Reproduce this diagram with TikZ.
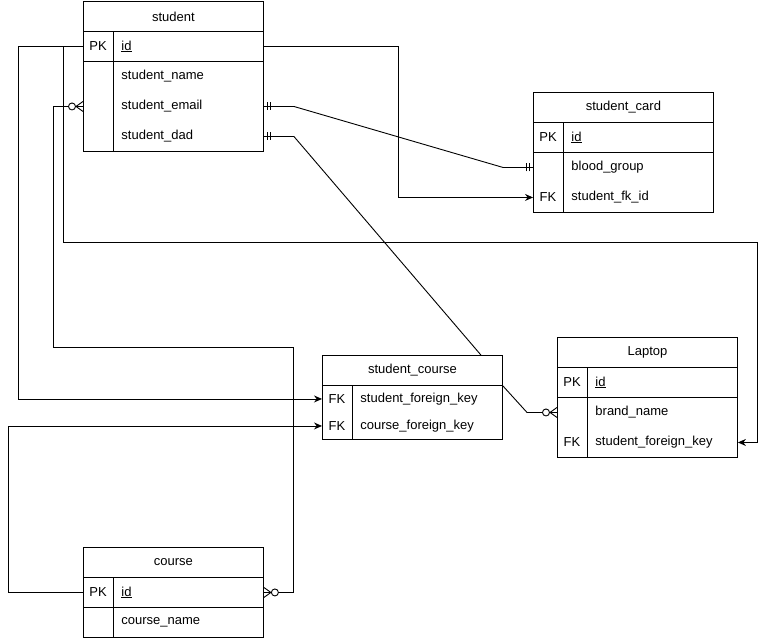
\documentclass[tikz,border=0pt]{standalone}
\usepackage{fontspec}
\setmainfont{Liberation Sans}
\usetikzlibrary{arrows.meta,positioning}
\tikzset{
  tblhead/.style={draw,anchor=north west,minimum width=180pt,minimum height=30pt,inner sep=0pt,font=\fontsize{13}{15}\selectfont},
  tblrow/.style={anchor=north west,minimum width=180pt,minimum height=30pt,inner sep=0pt},
  keytxt/.style={anchor=center,inner sep=0pt,font=\fontsize{13}{15}\selectfont},
  fieldtxt/.style={anchor=west,inner sep=0pt,font=\fontsize{13}{15}\selectfont},
  fkarrow/.style={-{Stealth[length=8pt,width=7pt]}},
  pics/mustone/.style={code={
    \draw (4,-4) -- (4,4) (7,-4) -- (7,4);
  }},
  pics/zeromany/.style={code={
    \draw (0,-5) -- (7,0) -- (0,5) (0,0) -- (7,0);
    \draw[fill=white] (11,0) circle (3.5pt);
  }},
}
\begin{document}
\begin{tikzpicture}[x=1pt,y=-1pt,line width=0.9pt]
\useasboundingbox (0,0) rectangle (767,638);
% Drawing tables
% Table: student
\node[tblhead] (student) at (83,1) {student};
\node[tblrow,draw] (student-id) at (83,31) {};
\node[tblrow,draw,minimum height=90pt] (student-body) at (83,61) {};
\node[tblrow] (student-name) at (83,61) {};
\node[tblrow] (student-email) at (83,91) {};
\node[tblrow] (student-dad) at (83,121) {};
\draw ([xshift=30pt]student-id.north west) -- ([xshift=30pt]student-body.south west);
\node[keytxt] (student-id-k) at ([xshift=15pt]student-id.west) {PK};
\node[fieldtxt] (student-id-f) at ([xshift=38pt]student-id.west) {\underline{id}};
\node[fieldtxt] (student-name-f) at ([xshift=38pt]student-name.west) {student\_name};
\node[fieldtxt] (student-email-f) at ([xshift=38pt]student-email.west) {student\_email};
\node[fieldtxt] (student-dad-f) at ([xshift=38pt]student-dad.west) {student\_dad};
% Table: student_card
\node[tblhead] (card) at (533,92) {student\_card};
\node[tblrow,draw] (card-id) at (533,122) {};
\node[tblrow,draw,minimum height=60pt] (card-body) at (533,152) {};
\node[tblrow] (card-blood) at (533,152) {};
\node[tblrow] (card-fk) at (533,182) {};
\draw ([xshift=30pt]card-id.north west) -- ([xshift=30pt]card-body.south west);
\node[keytxt] (card-id-k) at ([xshift=15pt]card-id.west) {PK};
\node[fieldtxt] (card-id-f) at ([xshift=38pt]card-id.west) {\underline{id}};
\node[fieldtxt] (card-blood-f) at ([xshift=38pt]card-blood.west) {blood\_group};
\node[keytxt] (card-fk-k) at ([xshift=15pt]card-fk.west) {FK};
\node[fieldtxt] (card-fk-f) at ([xshift=38pt]card-fk.west) {student\_fk\_id};
% Table: student_course
\node[tblhead] (sc) at (322,355) {student\_course};
\node[tblrow,draw,minimum height=54pt] (sc-body) at (322,385) {};
\node[tblrow,minimum height=27pt] (sc-sfk) at (322,385) {};
\node[tblrow,minimum height=27pt] (sc-cfk) at (322,412) {};
\draw ([xshift=30pt]sc-body.north west) -- ([xshift=30pt]sc-body.south west);
\node[keytxt] (sc-sfk-k) at ([xshift=15pt]sc-sfk.west) {FK};
\node[fieldtxt] (sc-sfk-f) at ([xshift=38pt]sc-sfk.west) {student\_foreign\_key};
\node[keytxt] (sc-cfk-k) at ([xshift=15pt]sc-cfk.west) {FK};
\node[fieldtxt] (sc-cfk-f) at ([xshift=38pt]sc-cfk.west) {course\_foreign\_key};
% Table: Laptop
\node[tblhead] (lap) at (557,337) {Laptop};
\node[tblrow,draw] (lap-id) at (557,367) {};
\node[tblrow,draw,minimum height=60pt] (lap-body) at (557,397) {};
\node[tblrow] (lap-brand) at (557,397) {};
\node[tblrow] (lap-fk) at (557,427) {};
\draw ([xshift=30pt]lap-id.north west) -- ([xshift=30pt]lap-body.south west);
\node[keytxt] (lap-id-k) at ([xshift=15pt]lap-id.west) {PK};
\node[fieldtxt] (lap-id-f) at ([xshift=38pt]lap-id.west) {\underline{id}};
\node[fieldtxt] (lap-brand-f) at ([xshift=38pt]lap-brand.west) {brand\_name};
\node[keytxt] (lap-fk-k) at ([xshift=15pt]lap-fk.west) {FK};
\node[fieldtxt] (lap-fk-f) at ([xshift=38pt]lap-fk.west) {student\_foreign\_key};
% Table: course
\node[tblhead] (course) at (83,547) {course};
\node[tblrow,draw] (course-id) at (83,577) {};
\node[tblrow,draw] (course-name) at (83,607) {};
\draw ([xshift=30pt]course-id.north west) -- ([xshift=30pt]course-name.south west);
\node[keytxt] (course-id-k) at ([xshift=15pt]course-id.west) {PK};
\node[fieldtxt] (course-id-f) at ([xshift=38pt]course-id.west) {\underline{id}};
\node[fieldtxt] (course-name-f) at ([xshift=38pt]course-name.west) {course\_name};
% Done with tables; drawing relations
% student.id -> student_course.student_foreign_key
\draw[fkarrow] (student-id.west) -- ++(-65,0) |- (sc-sfk.west);
% student.id -> Laptop.student_foreign_key
\draw[fkarrow] (student-id.west) -- ++(-20,0) -- ++(0,196) -| ([xshift=20pt]lap-fk.east) -- (lap-fk.east);
% student.id -> student_card.student_fk_id
\draw[fkarrow] (student-id.east) -- ++(135,0) |- (card-fk.west);
% student_email || -- || blood_group
\draw (student-email.east) -- ++(30,0) -- ([xshift=-30pt]card-blood.west) -- (card-blood.west);
\pic at (student-email.east) {mustone};
\pic[rotate=180] at (card-blood.west) {mustone};
% student_dad || -- student_course
\draw (student-dad.east) -- ++(30,0) -- ([xshift=-22pt]sc.north east);
\pic at (student-dad.east) {mustone};
% student >o -- o< course
\draw (student-email.west) -- ++(-30,0) -- ++(0,241) -| ([xshift=30pt]course-id.east) -- (course-id.east);
\pic[rotate=180] at (student-email.west) {zeromany};
\pic at (course-id.east) {zeromany};
% course.id -> student_course.course_foreign_key
\draw[fkarrow] (course-id.west) -- ++(-75,0) |- (sc-cfk.west);
% student_course -- o< Laptop
\draw (sc.south east) -- ([xshift=-30pt]lap-brand.west) -- (lap-brand.west);
\pic[rotate=180] at (lap-brand.west) {zeromany};
% Done with relations
\end{tikzpicture}
\end{document}
